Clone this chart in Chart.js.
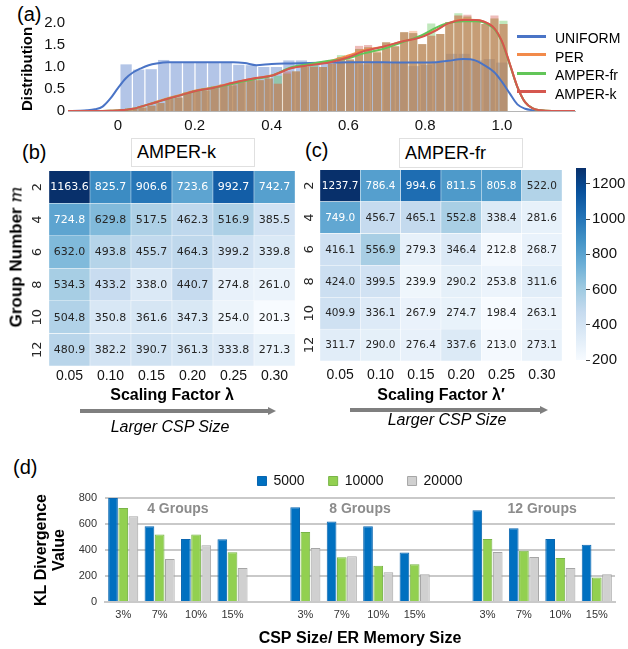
<!DOCTYPE html>
<html>
<head>
<meta charset="utf-8">
<script src="https://cdn.jsdelivr.net/npm/chart.js@4.4.1/dist/chart.umd.min.js"></script>
<style>
  body { margin: 0; width: 628px; height: 649px; position: relative; background: #fff; overflow: hidden;
         font-family: "Liberation Sans", Arial, sans-serif; color: #000; }
  canvas { position: absolute; }
  .t { position: absolute; white-space: nowrap; line-height: 1; }
  .box { position: absolute; border: 1px solid #e0e0e0; background: #fff; }
  .sw { position: absolute; height: 3px; width: 29px; }
</style>
</head>
<body>

<div class="t" style="left:17px;top:4px;font-size:20px">(a)</div>
<div class="t" style="left:22px;top:142px;font-size:20px">(b)</div>
<div class="t" style="left:305px;top:140px;font-size:20px">(c)</div>
<div class="t" style="left:13px;top:457px;font-size:20px">(d)</div>

<div class="box" style="left:131px;top:138px;width:122px;height:27px"></div>
<div class="t" style="left:137px;top:143px;font-size:18px">AMPER-k</div>
<div class="box" style="left:399px;top:138px;width:122px;height:28px"></div>
<div class="t" style="left:405px;top:144px;font-size:18px">AMPER-fr</div>

<canvas id="distChart" width="628" height="140" style="left:0;top:0"></canvas>
<canvas id="heatK" width="300" height="245" style="left:0;top:160px"></canvas>
<canvas id="heatFr" width="275" height="245" style="left:300px;top:160px"></canvas>
<canvas id="colorBar" width="68" height="230" style="left:560px;top:150px"></canvas>
<canvas id="klChart" width="628" height="209" style="left:0;top:440px"></canvas>

<!-- legend of (a) -->
<div class="sw" style="left:517px;top:35px;background:#4a74c6"></div>
<div class="t" style="left:555px;top:31px;font-size:14px">UNIFORM</div>
<div class="sw" style="left:517px;top:53px;background:#f28a4a"></div>
<div class="t" style="left:555px;top:50px;font-size:14px">PER</div>
<div class="sw" style="left:517px;top:72px;background:#62c558"></div>
<div class="t" style="left:555px;top:68px;font-size:14px">AMPER-fr</div>
<div class="sw" style="left:517px;top:90px;background:#d5574f"></div>
<div class="t" style="left:555px;top:87px;font-size:14px">AMPER-k</div>

<div class="t" style="left:16px;top:257px;font-size:17px;font-weight:bold;transform:translate(-50%,-50%) rotate(-90deg)">Group Number <i style="font-family:'DejaVu Serif',serif;font-weight:normal">m</i></div>

<svg style="position:absolute;left:0;top:400px" width="628" height="20">
  <line x1="80" y1="11" x2="270" y2="11" stroke="#7f7f7f" stroke-width="4"/>
  <polygon points="268,7 276,11 268,15" fill="#7f7f7f"/>
  <line x1="350" y1="10" x2="542" y2="10" stroke="#7f7f7f" stroke-width="4"/>
  <polygon points="540,6 548,10 540,14" fill="#7f7f7f"/>
</svg>
<div class="t" style="left:170px;top:427px;font-size:16px;font-style:italic;transform:translate(-50%,-50%)">Larger CSP Size</div>
<div class="t" style="left:447px;top:420px;font-size:16px;font-style:italic;transform:translate(-50%,-50%)">Larger CSP Size</div>

<script>
// ---------- (a) distribution ----------
const aXTicks = [0, 0.2, 0.4, 0.6, 0.8, 1.0];
const aXTickLabels = ['0', '0.2', '0.4', '0.6', '0.8', '1.0'];
const aYTicks = [0, 0.5, 1.0, 1.5, 2.0];
const aYTickLabels = ['0', '0.5', '1.0', '1.5', '2.0'];

const uniformBinStart = 0.005, uniformBinWidth = 0.0326;
const uniformHist = [1.06,0.94,0.95,1.16,1.11,1.11,1.11,1.11,1.11,1.05,
                     1.04,1.00,1.00,1.15,1.15,1.10,1.08,1.12,1.10,1.06,
                     1.12,1.08,1.10,1.02,1.05,1.10,1.30,1.30,1.15,1.18,1.10];

const amperBinStart = 0.005, amperBinWidth = 0.0235;
const perHist = [0.03,0.05,0.08,0.12,0.18,0.27,0.33,0.42,0.47,0.47,
                 0.52,0.60,0.58,0.68,0.72,0.70,0.74,0.62,0.85,0.90,
                 1.00,1.00,1.00,1.10,1.22,1.17,1.41,1.45,1.36,1.56,
                 1.47,1.79,1.82,1.52,1.71,1.75,2.02,2.17,2.15,2.02,1.98,2.10,1.98];
const amperFrHist = [0.03,0.05,0.08,0.12,0.18,0.30,0.30,0.42,0.47,0.47,
                     0.57,0.60,0.58,0.68,0.72,0.70,0.74,0.80,0.85,0.90,
                     1.08,1.06,1.00,1.07,1.27,1.17,1.41,1.45,1.33,1.56,
                     1.47,1.79,1.77,1.52,1.99,1.75,2.02,2.22,2.15,2.02,1.98,2.10,2.05];
const amperKHist = [0.03,0.05,0.08,0.12,0.18,0.27,0.30,0.42,0.47,0.47,
                    0.52,0.60,0.62,0.68,0.72,0.70,0.74,0.62,0.90,0.90,
                    1.00,1.00,1.00,1.07,1.22,1.17,1.48,1.50,1.33,1.56,
                    1.47,1.79,1.77,1.52,1.71,1.75,2.02,2.17,2.19,2.02,1.98,2.17,1.98];

const kdeX = [-0.13,-0.10,-0.08,-0.06,-0.04,-0.02,0.00,0.02,0.04,0.06,0.08,0.10,
              0.13,0.16,0.20,0.25,0.30,0.33,0.36,0.40,0.45,0.50,0.55,0.60,
              0.64,0.69,0.74,0.79,0.83,0.86,0.90,0.93,0.95,0.98,1.00,1.02,
              1.04,1.06,1.08,1.10,1.13,1.19];
const uniformKde = [0,0.005,0.015,0.04,0.10,0.28,0.52,0.74,0.88,0.97,1.04,1.08,
                    1.11,1.11,1.11,1.11,1.11,1.09,1.04,1.07,1.08,1.09,1.10,1.11,
                    1.11,1.11,1.10,1.10,1.11,1.14,1.18,1.15,1.06,0.88,0.66,0.40,
                    0.15,0.05,0.02,0.005,0,0];
const perKde = [0,0,0,0,0.002,0.005,0.01,0.03,0.05,0.10,0.15,0.21,
                0.29,0.36,0.46,0.54,0.64,0.70,0.75,0.81,0.97,1.05,1.13,1.26,
                1.38,1.46,1.58,1.69,1.85,1.99,2.08,2.07,2.04,1.88,1.58,1.08,
                0.55,0.20,0.06,0.015,0,0];
const amperFrKde = [0,0,0,0,0.002,0.005,0.01,0.03,0.05,0.10,0.15,0.20,
                    0.28,0.35,0.45,0.53,0.62,0.68,0.73,0.80,0.99,1.07,1.14,1.20,
                    1.31,1.41,1.56,1.72,1.90,2.00,2.04,2.04,2.02,1.86,1.56,1.06,
                    0.54,0.20,0.06,0.015,0,0];
const amperKKde = [0,0,0,0,0.002,0.005,0.01,0.03,0.05,0.10,0.15,0.20,
                   0.28,0.35,0.45,0.53,0.64,0.70,0.75,0.80,0.97,1.04,1.10,1.22,
                   1.36,1.46,1.58,1.68,1.84,1.99,2.07,2.07,2.04,1.88,1.58,1.08,
                   0.55,0.20,0.06,0.015,0,0];

// ---------- (b)/(c) heatmaps ----------
const groupLabels = ['2', '4', '6', '8', '10', '12'];
const lambdaLabels = ['0.05', '0.10', '0.15', '0.20', '0.25', '0.30'];
const amperK = [
  [1163.6, 825.7, 906.6, 723.6, 992.7, 742.7],
  [724.8, 629.8, 517.5, 462.3, 516.9, 385.5],
  [632.0, 493.8, 455.7, 464.3, 399.2, 339.8],
  [534.3, 433.2, 338.0, 440.7, 274.8, 261.0],
  [504.8, 350.8, 361.6, 347.3, 254.0, 201.3],
  [480.9, 382.2, 390.7, 361.3, 333.8, 271.3]
];
const amperFr = [
  [1237.7, 786.4, 994.6, 811.5, 805.8, 522.0],
  [749.0, 456.7, 465.1, 552.8, 338.4, 281.6],
  [416.1, 556.9, 279.3, 346.4, 212.8, 268.7],
  [424.0, 399.5, 239.9, 290.2, 253.8, 311.6],
  [409.9, 336.1, 267.9, 274.7, 198.4, 263.1],
  [311.7, 290.0, 276.4, 337.6, 213.0, 273.1]
];
const cbMin = 200, cbMax = 1290;
const cbTicks = [200, 400, 600, 800, 1000, 1200];

// ---------- (d) KL divergence ----------
const cspLabels = ['3%', '7%', '10%', '15%'];
const groupNames = ['4 Groups', '8 Groups', '12 Groups'];
const mem5000  = [800, 583, 484, 482, 729, 619, 583, 380, 706, 568, 484, 441];
const mem10000 = [723, 520, 520, 382, 538, 344, 278, 290, 484, 395, 339, 189];
const mem20000 = [660, 331, 436, 262, 415, 352, 229, 214, 385, 347, 262, 214];

Chart.defaults.font.family = '"Liberation Sans", Arial, sans-serif';
Chart.defaults.color = '#111';

const fixTicks = vals => scale => { scale.ticks = vals.map(v => ({value: v})); };

// ===== (a) =====
const toBins = (start, width, h) => h.map((y, i) => ({x: start + width * (i + 0.5), y}));
const toCurve = (xs, ys) => xs.map((x, i) => ({x, y: ys[i]}));

function histDs(label, pts, color, axis, order) {
  return {type: 'bar', label, data: pts, xAxisID: axis, backgroundColor: color, borderWidth: 0,
          barPercentage: 0.9, categoryPercentage: 1, grouped: false, order};
}
function kdeDs(label, pts, color, order) {
  return {type: 'line', label, data: pts, xAxisID: 'x', borderColor: color, backgroundColor: color,
          borderWidth: 2, pointRadius: 0, tension: 0.4, cubicInterpolationMode: 'monotone', fill: false, order};
}

new Chart(document.getElementById('distChart'), {
  type: 'bar',
  data: {
    datasets: [
      kdeDs('AMPER-k', toCurve(kdeX, amperKKde), '#d5574f', 0),
      kdeDs('AMPER-fr', toCurve(kdeX, amperFrKde), '#62c558', 1),
      kdeDs('PER', toCurve(kdeX, perKde), '#f28a4a', 2),
      kdeDs('UNIFORM', toCurve(kdeX, uniformKde), '#4a74c6', 3),
      histDs('AMPER-k', toBins(amperBinStart, amperBinWidth, amperKHist), 'rgba(213,87,79,0.4)', 'x', 4),
      histDs('AMPER-fr', toBins(amperBinStart, amperBinWidth, amperFrHist), 'rgba(98,197,88,0.4)', 'x', 5),
      histDs('PER', toBins(amperBinStart, amperBinWidth, perHist), 'rgba(242,138,74,0.4)', 'x', 6),
      histDs('UNIFORM', toBins(uniformBinStart, uniformBinWidth, uniformHist), 'rgba(74,116,198,0.42)', 'xu', 7)
    ]
  },
  options: {
    responsive: false, animation: false,
    layout: {padding: {top: 12, right: 53, left: 0, bottom: 0}},
    plugins: {legend: {display: false}, tooltip: {enabled: false}},
    scales: {
      x: {
        type: 'linear', min: -0.13, max: 1.19, offset: false,
        grid: {display: false, drawTicks: false}, border: {display: true, color: '#b5b5b5'},
        afterBuildTicks: fixTicks(aXTicks),
        ticks: {callback: (v, i) => aXTickLabels[i], font: {size: 15}, padding: 6, autoSkip: false, maxRotation: 0},
        afterFit: s => { s.height = 29; }
      },
      xu: {type: 'linear', min: -0.13, max: 1.19, offset: false, display: false, afterBuildTicks: fixTicks(aXTicks)},
      y: {
        min: 0, max: 2.25,
        grid: {display: false, drawTicks: false}, border: {display: false},
        afterBuildTicks: fixTicks(aYTicks),
        ticks: {callback: (v, i) => aYTickLabels[i], font: {size: 15}, padding: 3},
        title: {display: true, text: 'Distribution', align: 'start', color: '#000',
                font: {size: 15, weight: 'bold'}, padding: {top: 19, bottom: 0}},
        afterFit: s => { s.width = 68; }
      }
    }
  }
});

// ===== (b) / (c) heatmaps =====
const bluesStops = [[247,251,255],[222,235,247],[198,219,239],[158,202,225],[107,174,214],
                    [66,146,198],[33,113,181],[8,81,156],[8,48,107]];
function blues(t) {
  t = Math.max(0, Math.min(1, t));
  const p = t * 8, i = Math.min(7, Math.floor(p)), f = p - i;
  const a = bluesStops[i], b = bluesStops[i + 1];
  const c = a.map((v, k) => Math.round(v + (b[k] - v) * f));
  return `rgb(${c[0]},${c[1]},${c[2]})`;
}

const cellText = {
  id: 'cellText',
  afterDatasetsDraw(chart, args, opts) {
    const {ctx} = chart;
    const ds = chart.data.datasets[0];
    ctx.save();
    ctx.font = `${opts.size}px "DejaVu Sans"`;
    ctx.textAlign = 'center';
    ctx.textBaseline = 'middle';
    chart.getDatasetMeta(0).data.forEach((el, i) => {
      const cell = ds.data[i];
      ctx.fillStyle = cell.t > 0.5 ? '#ffffff' : '#262626';
      ctx.fillText(cell.v.toFixed(1), (el.x + el.base) / 2, el.y + 0.5);
    });
    ctx.restore();
  }
};

function heatCells(table) {
  const flat = table.flat();
  const lo = Math.min(...flat), hi = Math.max(...flat);
  const cells = [];
  table.forEach((row, r) => row.forEach((v, c) => {
    cells.push({y: groupLabels[r], x: [c, c + 1], v, t: (v - lo) / (hi - lo)});
  }));
  return cells;
}

function heatmap(id, table, o) {
  return new Chart(document.getElementById(id), {
    type: 'bar',
    data: {
      labels: groupLabels,
      datasets: [{
        data: heatCells(table),
        backgroundColor: ctx => blues(ctx.raw ? ctx.raw.t : 0),
        borderColor: '#ffffff', borderWidth: 0.5, borderSkipped: false,
        barPercentage: 1, categoryPercentage: 1, grouped: false
      }]
    },
    options: {
      indexAxis: 'y', responsive: false, animation: false,
      layout: {padding: {top: 8, right: o.padRight, left: 0, bottom: 0}},
      plugins: {legend: {display: false}, tooltip: {enabled: false}, cellText: {size: o.cellFont}},
      scales: {
        x: {
          type: 'linear', min: 0, max: 6, offset: false,
          grid: {display: false, drawTicks: false}, border: {display: false},
          afterBuildTicks: s => { s.ticks = lambdaLabels.map((_, i) => ({value: i + 0.5})); },
          ticks: {autoSkip: false, maxRotation: 0, callback: (v, i) => lambdaLabels[i], font: {size: 14}, padding: o.xPad},
          title: {display: true, text: o.xTitle, color: '#000', font: {size: 16, weight: 'bold'}, padding: {top: 0, bottom: 0}},
          afterFit: s => { s.height = o.xHeight; }
        },
        y: {
          type: 'category', offset: true,
          grid: {display: false, drawTicks: false}, border: {display: false},
          ticks: {minRotation: 90, maxRotation: 90, crossAlign: 'center', color: '#262626',
                  font: {family: '"DejaVu Sans"', size: 13}, padding: o.yPad},
          afterFit: s => { s.width = o.yWidth; }
        }
      }
    },
    plugins: [cellText]
  });
}

heatmap('heatK', amperK, {padRight: 5, yWidth: 49, yPad: 3, xHeight: 39, xPad: 2, cellFont: 11, xTitle: 'Scaling Factor λ'});
heatmap('heatFr', amperFr, {padRight: 13, yWidth: 20, yPad: 2, xHeight: 44, xPad: 6, cellFont: 10.5, xTitle: 'Scaling Factor λ′'});

new Chart(document.getElementById('colorBar'), {
  type: 'bar',
  data: {
    labels: [''],
    datasets: [{
      data: [[cbMin, cbMax]],
      backgroundColor: ctx => {
        const ch = ctx.chart, ys = ch.scales.y;
        if (!ch.chartArea || !ys) return blues(0.5);
        const g = ch.ctx.createLinearGradient(0, ys.getPixelForValue(cbMin), 0, ys.getPixelForValue(cbMax));
        bluesStops.forEach((s, i) => g.addColorStop(i / 8, `rgb(${s[0]},${s[1]},${s[2]})`));
        return g;
      },
      borderWidth: 0, barPercentage: 1, categoryPercentage: 1
    }]
  },
  options: {
    responsive: false, animation: false,
    layout: {padding: {left: 16, top: 18, bottom: 20, right: 0}},
    plugins: {legend: {display: false}, tooltip: {enabled: false}},
    scales: {
      x: {display: false},
      y: {
        position: 'right', min: cbMin, max: cbMax,
        afterBuildTicks: fixTicks(cbTicks),
        grid: {display: true, drawOnChartArea: false, drawTicks: true, tickLength: 4, color: '#444'},
        border: {display: false},
        ticks: {font: {size: 15}, padding: 2, callback: v => String(v)},
        afterFit: s => { s.width = 42; }
      }
    }
  }
});

// ===== (d) =====
const dLabels = [];
groupNames.forEach((g, gi) => {
  cspLabels.forEach(l => dLabels.push(l));
  if (gi < groupNames.length - 1) dLabels.push('');
});
const withGaps = arr => {
  const out = [];
  groupNames.forEach((g, gi) => {
    arr.slice(gi * 4, gi * 4 + 4).forEach(v => out.push(v));
    if (gi < groupNames.length - 1) out.push(null);
  });
  return out;
};

const groupTitles = {
  id: 'groupTitles',
  afterDatasetsDraw(chart) {
    const {ctx, chartArea} = chart;
    const x = chart.scales.x;
    ctx.save();
    ctx.font = 'bold 14px "Liberation Sans", Arial, sans-serif';
    ctx.fillStyle = '#8c8c8c';
    ctx.textAlign = 'center';
    ctx.textBaseline = 'middle';
    groupNames.forEach((g, i) => {
      const mid = (x.getPixelForValue(i * 5) + x.getPixelForValue(i * 5 + 3)) / 2;
      ctx.fillText(g, mid, chartArea.top + 11);
    });
    ctx.restore();
  }
};

new Chart(document.getElementById('klChart'), {
  type: 'bar',
  data: {
    labels: dLabels,
    datasets: [
      {label: '5000', data: withGaps(mem5000), backgroundColor: '#0070c0', borderColor: '#0a66b0', borderWidth: 1},
      {label: '10000', data: withGaps(mem10000), backgroundColor: '#92d050', borderColor: '#79b548', borderWidth: 1},
      {label: '20000', data: withGaps(mem20000), backgroundColor: '#d0d0d0', borderColor: '#a6a6a6', borderWidth: 1}
    ]
  },
  options: {
    responsive: false, animation: false,
    datasets: {bar: {categoryPercentage: 0.84, barPercentage: 0.95}},
    layout: {padding: {top: 10, right: 13, left: 0, bottom: 1}},
    plugins: {
      legend: {position: 'top', fullSize: false,
               labels: {boxWidth: 9, boxHeight: 9, padding: 24, font: {size: 14}, color: '#111'}},
      tooltip: {enabled: false}
    },
    scales: {
      x: {
        grid: {display: false, drawTicks: false}, border: {display: true, color: '#c9c9c9', width: 2},
        ticks: {font: {size: 11}, color: '#333', autoSkip: false, maxRotation: 0, padding: 6},
        title: {display: true, text: 'CSP Size/ ER Memory Size', color: '#000', font: {size: 16, weight: 'bold'}, padding: {top: 0, bottom: 0}},
        afterFit: s => { s.height = 46; }
      },
      y: {
        min: 0, max: 800,
        ticks: {stepSize: 200, font: {size: 11}, color: '#333', padding: 8},
        grid: {color: '#c9c9c9', lineWidth: 2, drawTicks: false}, border: {display: false},
        title: {display: true, text: ['KL Divergence', 'Value'], color: '#000',
                font: {size: 16, weight: 'bold', lineHeight: 1.1}, padding: {top: 33, bottom: 0}},
        afterFit: s => { s.width = 105; }
      }
    }
  },
  plugins: [groupTitles]
});
</script>
</body>
</html>
